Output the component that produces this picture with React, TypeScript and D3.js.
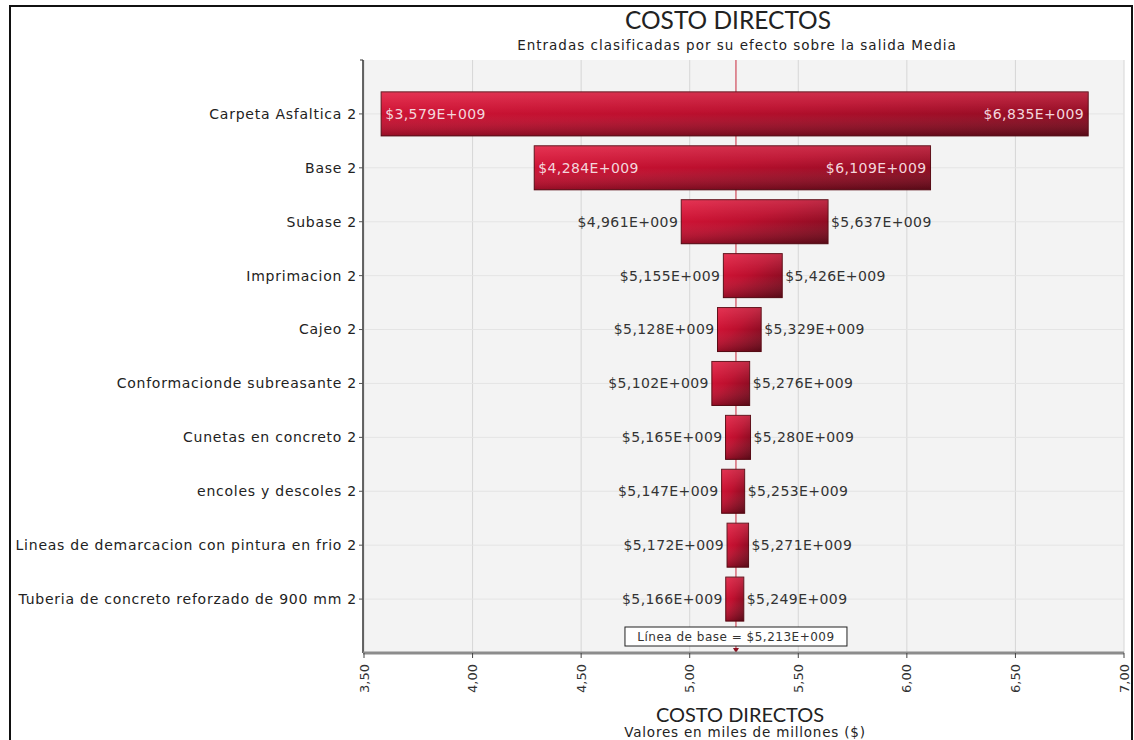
import React from "react";
import * as d3 from "d3";

const categories = [
  "Carpeta Asfaltica 2",
  "Base 2",
  "Subase 2",
  "Imprimacion 2",
  "Cajeo 2",
  "Conformacionde subreasante 2",
  "Cunetas en concreto 2",
  "encoles y descoles 2",
  "Lineas de demarcacion con pintura en frio 2",
  "Tuberia de concreto reforzado de 900 mm 2",
];
const lowValues = [3.579, 4.284, 4.961, 5.155, 5.128, 5.102, 5.165, 5.147, 5.172, 5.166];
const highValues = [6.835, 6.109, 5.637, 5.426, 5.329, 5.276, 5.28, 5.253, 5.271, 5.249];
const baselineValue = 5.213;
const xTicks = [3.5, 4.0, 4.5, 5.0, 5.5, 6.0, 6.5, 7.0];

const W = 1134;
const H = 740;
const left = 364;
const right = 1124;
const top = 60;
const bottom = 653;
const FONT = "'DejaVu Sans', Verdana, sans-serif";

export default function App() {
  const x = d3.scaleLinear().domain([3.5, 7]).range([left, right]);
  const y = d3.scalePoint<string>().domain(categories).range([top, bottom]).padding(1);
  const barH = 44;
  const fmtTick = (v: number) => d3.format(".2f")(v).replace(".", ",");
  const fmtVal = (v: number) => "$" + d3.format(".3f")(v).replace(".", ",") + "E+009";
  const bx = x(baselineValue);

  return (
    <svg width={W} height={H} style={{ position: "absolute", left: 0, top: 0, background: "#fff" }}>
      <defs>
        <linearGradient id="barGrad" x1="0" y1="0" x2="1" y2="1">
          <stop offset="0%" stopColor="#e2183c" />
          <stop offset="45%" stopColor="#bd0f2e" />
          <stop offset="100%" stopColor="#6a0a1a" />
        </linearGradient>
        <linearGradient id="barShade" x1="0" y1="0" x2="0" y2="1">
          <stop offset="0%" stopColor="#ffffff" stopOpacity="0.12" />
          <stop offset="50%" stopColor="#ffffff" stopOpacity="0" />
          <stop offset="100%" stopColor="#000000" stopOpacity="0.18" />
        </linearGradient>
      </defs>
      {/* frame */}
      <path d={`M10,745V6H1132V745`} fill="none" stroke="#111" strokeWidth={2} />

      {/* titles */}
      <text x={728} y={29} textAnchor="middle" fontFamily="Lato, sans-serif" fontSize={24.5} fill="#222">
        COSTO DIRECTOS
      </text>
      <text x={737} y={50} textAnchor="middle" fontFamily={FONT} fontSize={13.5} letterSpacing={1} fill="#222">
        Entradas clasificadas por su efecto sobre la salida Media
      </text>

      {/* plot background */}
      <rect x={left} y={top} width={right - left} height={bottom - top} fill="#f3f3f3" />
      {xTicks.map((t) => (
        <line key={"g" + t} x1={x(t)} x2={x(t)} y1={top} y2={bottom} stroke="#d6d6d6" strokeWidth={1} />
      ))}
      {categories.map((c) => (
        <line key={"h" + c} x1={left} x2={right} y1={y(c)!} y2={y(c)!} stroke="#e4e4e4" strokeWidth={1} />
      ))}

      {/* baseline line */}
      <line x1={bx} x2={bx} y1={top} y2={bottom} stroke="#c8283c" strokeWidth={1} />

      {/* bars */}
      {categories.map((c, i) => {
        const x0 = x(lowValues[i]);
        const x1 = x(highValues[i]);
        const yc = y(c)!;
        const w = x1 - x0;
        const inside = w > 300;
        return (
          <g key={"b" + c}>
            <rect x={x0} y={yc - barH / 2} width={w} height={barH} fill="url(#barGrad)" stroke="#5a0812" strokeWidth={1} />
            <rect x={x0} y={yc - barH / 2} width={w} height={barH} fill="url(#barShade)" />
            <text
              x={inside ? x0 + 4 : x0 - 3}
              y={yc}
              dy="0.35em"
              textAnchor={inside ? "start" : "end"}
              fontFamily={FONT}
              fontSize={14}
              letterSpacing={0.4}
              fill={inside ? "#f3d6dc" : "#333"}
            >
              {fmtVal(lowValues[i])}
            </text>
            <text
              x={inside ? x1 - 4 : x1 + 3}
              y={yc}
              dy="0.35em"
              textAnchor={inside ? "end" : "start"}
              fontFamily={FONT}
              fontSize={14}
              letterSpacing={0.4}
              fill={inside ? "#f3d6dc" : "#333"}
            >
              {fmtVal(highValues[i])}
            </text>
          </g>
        );
      })}

      {/* baseline box */}
      <rect x={bx - 111} y={627} width={222} height={19} fill="#fff" stroke="#222" strokeWidth={1} />
      <text x={bx} y={637} dy="0.35em" textAnchor="middle" fontFamily={FONT} fontSize={12} letterSpacing={0.5} fill="#333">
        {"Línea de base = " + fmtVal(baselineValue)}
      </text>
      <path d={`M${bx - 3},${bottom - 5}L${bx + 3},${bottom - 5}L${bx},${bottom}Z`} fill="#8a1020" />

      {/* y axis */}
      <line x1={left - 1} x2={left - 1} y1={top} y2={bottom} stroke="#333" strokeWidth={1.5} />
      <line x1={left - 4} x2={left - 1} y1={top} y2={top} stroke="#333" strokeWidth={1} />
      {categories.map((c) => (
        <g key={"yt" + c}>
          <line x1={left - 5} x2={left - 1} y1={y(c)!} y2={y(c)!} stroke="#555" strokeWidth={1} />
          <text x={left - 7} y={y(c)!} dy="0.35em" textAnchor="end" fontFamily={FONT} fontSize={14} letterSpacing={0.75} fill="#222">
            {c}
          </text>
        </g>
      ))}

      {/* x axis */}
      <line x1={left - 1} x2={right} y1={bottom} y2={bottom} stroke="#8c8c8c" strokeWidth={3} />
      {xTicks.map((t) => (
        <g key={"xt" + t}>
          <line x1={x(t)} x2={x(t)} y1={bottom} y2={bottom + 5} stroke="#444" strokeWidth={1} />
          <text
            transform={`translate(${x(t)},${bottom + 11}) rotate(-90)`}
            textAnchor="end"
            dy="0.35em"
            fontFamily={FONT}
            fontSize={13}
            fill="#333"
          >
            {fmtTick(t)}
          </text>
        </g>
      ))}
      <text x={740} y={722} textAnchor="middle" fontFamily="Lato, sans-serif" fontSize={20} fill="#222">
        COSTO DIRECTOS
      </text>
      <text x={745} y={737} textAnchor="middle" fontFamily={FONT} fontSize={13.5} letterSpacing={0.8} fill="#222">
        Valores en miles de millones ($)
      </text>
    </svg>
  );
}
